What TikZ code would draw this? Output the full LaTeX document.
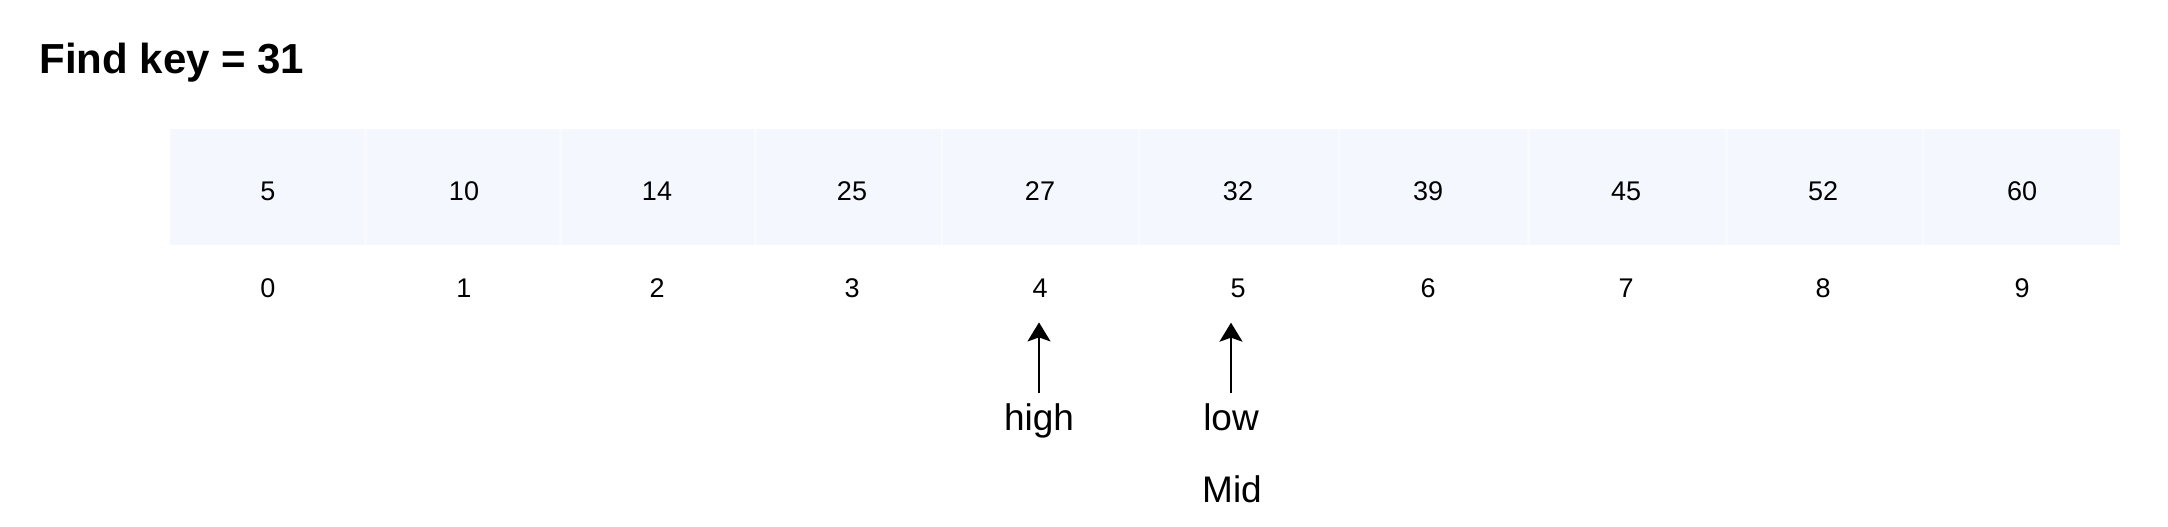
\documentclass[tikz,border=0pt]{standalone}
\usepackage{fontspec}
\setmainfont{Liberation Sans}
\usetikzlibrary{arrows.meta}
\definecolor{cellfill}{HTML}{F4F7FE}
\definecolor{gapline}{HTML}{F8FAFE}
\begin{document}
\begin{tikzpicture}[x=0.5pt,y=-0.5pt,
  cellbox/.style={fill=cellfill, draw=none, inner sep=0pt, minimum height=58pt},
  valtext/.style={inner sep=0pt, font=\fontsize{13.5pt}{16pt}\selectfont},
  lbltext/.style={inner sep=0pt, font=\fontsize{18.5pt}{22pt}\selectfont},
  titletext/.style={inner sep=0pt, font=\fontsize{21pt}{25pt}\selectfont\bfseries},
  ptr/.style={-{Stealth[length=9.5pt,width=11.5pt,inset=2pt]}, line width=1pt, shorten <=5pt, shorten >=12.5pt}]
\useasboundingbox[fill=white] (0,0) rectangle (2168,526);
\fill[gapline] (170,129) rectangle (2120,245);
\node[titletext, anchor=base west] (title) at (39,73) {Find key = 31};
\foreach \l/\r/\v/\t [count=\i from 0] in {170/364/5/268, 367/559/10/464, 562/754/14/657, 757/941/25/852, 943/1138/27/1040, 1140/1338/32/1238, 1340/1527/39/1428, 1530/1725/45/1626, 1728/1922/52/1823, 1924/2120/60/2022} {
  \node[cellbox, minimum width={(\r-\l)*0.5pt}] (c\i) at ({(\l+\r)/2},187) {};
  \node[valtext, anchor=base] (v\i) at (\t,200) {\v};
  \node[valtext, anchor=base] (i\i) at (\t,297) {\i};
}
\node[lbltext, anchor=base] (high) at (1039,430) {high};
\node[lbltext, anchor=base] (low) at (1231,430) {low};
\node[lbltext, anchor=base] (mid) at (1232,502) {Mid};
\draw[ptr] (high.north) -- (high.north |- i4.south);
\draw[ptr] (low.north) -- (low.north |- i5.south);
\end{tikzpicture}
\end{document}
